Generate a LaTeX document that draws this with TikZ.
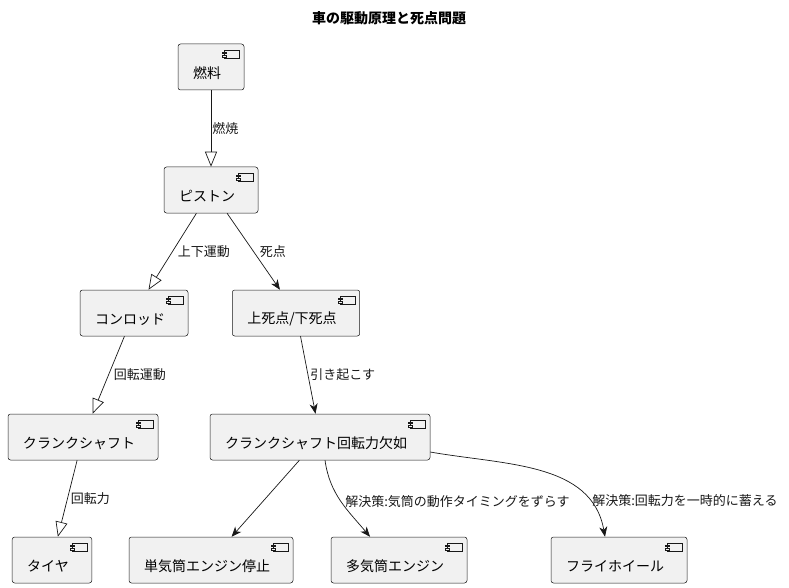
\documentclass[tikz,border=0pt]{standalone}
\usepackage{fontspec}
\setmainfont{Noto Sans CJK JP}
\usetikzlibrary{arrows.meta}
\definecolor{compfill}{HTML}{F1F1F1}
\definecolor{compline}{HTML}{181818}
\begin{document}
\begin{tikzpicture}
		[x=1pt,y=1pt,
		comp/.style={rectangle,rounded corners=2.5pt,draw=compline,line width=0.5pt,fill=compfill,
minimum height=46pt,inner xsep=15pt,font=\fontsize{14pt}{16pt}\selectfont,
execute at begin node={\rule{0pt}{24pt}},
execute at end node={\hspace{8pt}},
path picture={
	\draw[sharp corners,compline,line width=0.4pt,fill=compfill] ([xshift=-20pt,yshift=-6pt]path picture bounding box.north east) rectangle ++(15pt,-8.5pt);
	\draw[sharp corners,compline,line width=0.4pt,fill=compfill] ([xshift=-22pt,yshift=-8pt]path picture bounding box.north east) rectangle ++(4pt,-1.5pt);
	\draw[sharp corners,compline,line width=0.4pt,fill=compfill] ([xshift=-22pt,yshift=-11.5pt]path picture bounding box.north east) rectangle ++(4pt,-1.5pt);}},
		lbl/.style={font=\fontsize{13pt}{15pt}\selectfont,inner sep=1pt},
		titlestyle/.style={font=\bfseries\fontsize{14pt}{16pt}\selectfont},
		extends/.style={-{Triangle[open,length=15pt,width=12pt]},line width=0.7pt,compline},
		leads/.style={-{Stealth[length=10pt,width=8pt,inset=3pt]},line width=0.7pt,compline}]
		\useasboundingbox (0,0) rectangle (789,-588);
		\node at (389,-18) (title) [titlestyle] {車の駆動原理と死点問題};
		\node at (211,-67) (fuel) [comp] {燃料};
		\node at (211,-190) (piston) [comp] {ピストン};
		\node at (134,-313) (conrod) [comp] {コンロッド};
		\node at (296,-313) (deadpt) [comp] {上死点/下死点};
		\node at (83,-437) (crank) [comp] {クランクシャフト};
		\node at (320,-437) (notorque) [comp] {クランクシャフト回転力欠如};
		\node at (52,-560) (tire) [comp] {タイヤ};
		\node at (211,-560) (single) [comp] {単気筒エンジン停止};
		\node at (399,-560) (multi) [comp] {多気筒エンジン};
		\node at (619,-560) (flywheel) [comp] {フライホイール};
		\draw[extends] (fuel) -- node[lbl,right] {燃焼} (piston);
		\draw[extends] (piston) -- node[lbl,right=4pt] {上下運動} (conrod);
		\draw[leads] (piston) -- node[lbl,right=5pt] {死点} (deadpt);
		\draw[extends] (conrod) -- node[lbl,right=4pt] {回転運動} (crank);
		\draw[leads] (deadpt) -- node[lbl,right=1pt] {引き起こす} (notorque);
		\draw[extends] (crank) -- node[lbl,right=2pt] {回転力} (tire);
		\draw[leads] (notorque) -- (single);
		\draw[leads] ([xshift=5pt]notorque.south) to[out=-82,in=130]
			node[lbl,pos=0.5,right=3pt] {解決策:気筒の動作タイミングをずらす} ([xshift=-29pt]multi.north);
		\draw[leads] ([yshift=-15pt]notorque.east) to[out=-10,in=100]
			node[lbl,pos=0.8,right=2pt] {解決策:回転力を一時的に蓄える} ([xshift=-14pt]flywheel.north);
	\end{tikzpicture}
\end{document}
